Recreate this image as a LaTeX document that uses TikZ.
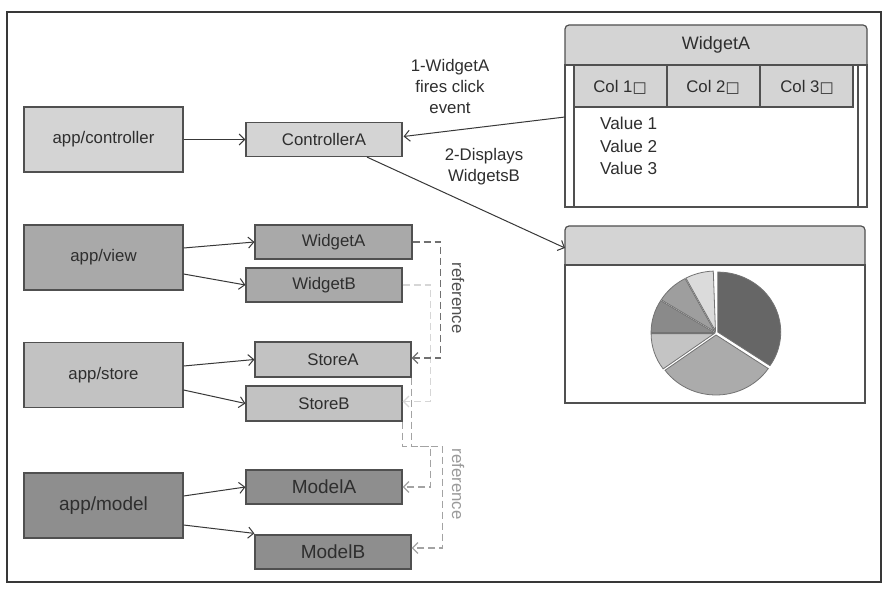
\documentclass[tikz,border=0pt]{standalone}
\usepackage{fontspec}
\setmainfont{Liberation Sans}
\newfontfamily\boxsym{DejaVu Sans}
\usetikzlibrary{arrows.meta,calc}
\definecolor{cLight}{HTML}{D4D4D4}
\definecolor{cView}{HTML}{A9A9A9}
\definecolor{cStore}{HTML}{C2C2C2}
\definecolor{cModel}{HTML}{8E8E8E}
\definecolor{cBorder}{HTML}{505050}
\definecolor{cText}{HTML}{2E2E2E}
\definecolor{cLine}{HTML}{383838}
\definecolor{cDashA}{HTML}{707070}
\definecolor{cDashB}{HTML}{D6D6D6}
\definecolor{cDashC}{HTML}{A3A3A3}
\definecolor{cRefA}{HTML}{505050}
\definecolor{cRefB}{HTML}{9A9A9A}
\newcommand{\sqbox}{{\boxsym\fontsize{15}{15}\selectfont □}}
\begin{document}
\begin{tikzpicture}[x=1pt,y=-1pt,
  box/.style={draw=cBorder, line width=1.2pt, text=cText, inner sep=0pt,
    font=\fontsize{16.8}{19}\selectfont},
  big/.style={box, minimum width=159pt, minimum height=65pt},
  small/.style={box, minimum width=156pt, minimum height=34pt},
  conn/.style={draw=cLine, line width=1pt, -{Straight Barb[length=5.5pt,width=11pt]}},
  dref/.style={line width=1.2pt, dash pattern=on 7pt off 4pt,
    -{Straight Barb[length=5.5pt,width=11pt]}},
  ann/.style={text=cText, align=center, font=\fontsize{16.8}{21}\selectfont},
  plain/.style={text=cText, font=\fontsize{16.8}{19}\selectfont},
  slice/.style={draw=cBorder!80, line width=0.8pt},
]
\useasboundingbox (0,0) rectangle (891,593);
\fill[white] (0,0) rectangle (891,593);
\draw[draw=cLine, line width=1.3pt] (7,12) rectangle (881,582);

% left column
\node[big, fill=cLight] (appc) at (103.5,139.5) {app/controller};
\node[small, fill=cLight] (ctrlA) at (324,139.5) {ControllerA};

\node[big, fill=cView] (appv) at (103.5,257.5) {app/view};
\node[small, fill=cView, minimum width=157pt] (wA) at (333.5,242) {WidgetA};
\node[small, fill=cView] (wB) at (324,285) {WidgetB};

\node[big, fill=cStore] (apps) at (103.5,375) {app/store};
\node[small, fill=cStore, minimum height=35pt] (sA) at (333,359.5) {StoreA};
\node[small, fill=cStore, minimum height=35pt] (sB) at (324,403.5) {StoreB};

\node[big, fill=cModel, font=\fontsize{19}{21}\selectfont] (appm) at (103.5,505.5) {app/model};
\node[small, fill=cModel, font=\fontsize{19}{21}\selectfont] (mA) at (324,487) {ModelA};
\node[small, fill=cModel, font=\fontsize{19}{21}\selectfont] (mB) at (333,552) {ModelB};

% solid connectors
\draw[conn] (appc.east) -- (ctrlA.west);
\draw[conn] ($(appv.east)+(0,-9.5)$) -- (wA.west);
\draw[conn] ($(appv.east)+(0,16.5)$) -- (wB.west);
\draw[conn] ($(apps.east)+(0,-9)$) -- (sA.west);
\draw[conn] ($(apps.east)+(0,15)$) -- (sB.west);
\draw[conn] ($(appm.east)+(0,-9.5)$) -- (mA.west);
\draw[conn] ($(appm.east)+(0,19.5)$) -- ($(mB.north west)+(0,-1)$);

% dashed reference connectors
\draw[dref, draw=cDashB] (wB.east) -- ++(28,0) |- ($(sB.east)+(0,-2)$);
\draw[dref, draw=cDashC] (sB.south east) -- ++(0,25) -| ($(mA.east)+(28,0)$) -- (mA.east);
\draw[dref, draw=cDashC] (sA.south east) -- ++(0,69) -| ($(mB.east)+(31,-4)$) -- ($(mB.east)+(0,-4)$);
\draw[dref, draw=cDashA] (wA.east) -- ++(28,0) |- ($(sA.east)+(0,-1.5)$);

\node[rotate=-90, text=cRefA, font=\fontsize{16.8}{19}\selectfont] (ref1) at (458,298) {reference};
\node[rotate=-90, text=cRefB, font=\fontsize{16.8}{19}\selectfont] (ref2) at (458,484) {reference};

% WidgetA panel
\draw[fill=cLight, draw=cBorder, line width=1.2pt, rounded corners=4pt] (565,25) rectangle (867,72);
\draw[fill=white, draw=cBorder, line width=1.2pt] (565,65) rectangle (867,207);
\draw[draw=cBorder, line width=1.1pt] (574,65) -- (574,207);
\draw[draw=cBorder, line width=1.1pt] (858,65) -- (858,207);
\draw[fill=cLight, draw=cBorder, line width=1.1pt] (574,65) rectangle (853,107);
\draw[draw=cBorder, line width=1.1pt] (667,65) -- (667,107);
\draw[draw=cBorder, line width=1.1pt] (760,65) -- (760,107);
\node[plain, font=\fontsize{18}{20}\selectfont] (wpTitle) at (716,45) {WidgetA};
\node[plain] (col1) at (620,87) {Col 1\sqbox};
\node[plain] (col2) at (713,87) {Col 2\sqbox};
\node[plain] (col3) at (807,87) {Col 3\sqbox};
\node[plain, anchor=north west, align=left, inner sep=0pt, font=\fontsize{17.2}{22.5}\selectfont] (vals) at (600,117) {Value 1\\Value 2\\Value 3};
\coordinate (wpIn) at (565,117);

% chart panel
\draw[fill=cLight, draw=cBorder, line width=1.2pt, rounded corners=4pt] (565,226) rectangle (865,272);
\draw[fill=white, draw=cBorder, line width=1.2pt] (565,265) rectangle (865,403);
\coordinate (cpIn) at (565,248);

\begin{scope}[shift={(716,333)}, y=1pt]
  \def\rx{63}\def\ry{60}
  \filldraw[slice, fill=black!60, shift={(28:2)}] (0,0) -- (-34:\rx pt and \ry pt) arc[start angle=-34, end angle=90, x radius=\rx, y radius=\ry] -- cycle;
  \filldraw[slice, fill=black!33, shift={(-89:2)}] (0,0) -- (-144:\rx pt and \ry pt) arc[start angle=-144, end angle=-34, x radius=\rx, y radius=\ry] -- cycle;
  \filldraw[slice, fill=black!23, shift={(198:2)}] (0,0) -- (180:\rx pt and \ry pt) arc[start angle=180, end angle=216, x radius=\rx, y radius=\ry] -- cycle;
  \filldraw[slice, fill=black!46, shift={(164:2)}] (0,0) -- (148:\rx pt and \ry pt) arc[start angle=148, end angle=180, x radius=\rx, y radius=\ry] -- cycle;
  \filldraw[slice, fill=black!38, shift={(133:2)}] (0,0) -- (118:\rx pt and \ry pt) arc[start angle=118, end angle=148, x radius=\rx, y radius=\ry] -- cycle;
  \filldraw[slice, fill=black!14, shift={(105:2)}] (0,0) -- (92:\rx pt and \ry pt) arc[start angle=92, end angle=118, x radius=\rx, y radius=\ry] -- cycle;
\end{scope}

% right connectors
\draw[conn] (wpIn) -- ($(ctrlA.east)+(1,-3)$);
\draw[conn] ($(ctrlA.south)+(43,0)$) -- (cpIn);
\node[ann] (lbl1) at (450,86) {1-WidgetA\\fires click\\event};
\node[ann] (lbl2) at (484,167) {2-Displays\\WidgetsB};
\end{tikzpicture}
\end{document}
